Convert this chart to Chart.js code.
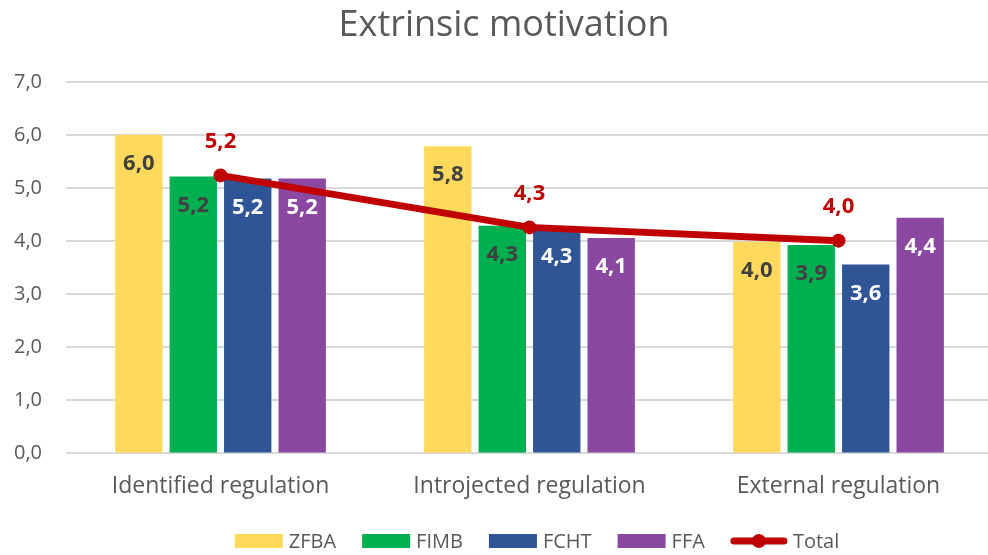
<!DOCTYPE html>
<html>
<head>
<meta charset="utf-8">
<script src="https://cdn.jsdelivr.net/npm/chart.js@4"></script>
<style>
  html, body { margin: 0; padding: 0; background: #fff; overflow: hidden; }
  #wrap { width: 988px; height: 555px; }
</style>
</head>
<body>
<div id="wrap"><canvas id="chart" width="988" height="555"></canvas></div>
<script>
const categories = ['Identified regulation', 'Introjected regulation', 'External regulation'];
const zfba = [6.0, 5.79, 3.99];
const fimb = [5.22, 4.29, 3.93];
const fcht = [5.18, 4.25, 3.56];
const ffa = [5.18, 4.06, 4.44];
const total = [5.24, 4.26, 4.01];
const yTicks = [0, 1, 2, 3, 4, 5, 6, 7];

const fontFamily = '"Open Sans", "Noto Sans", sans-serif';
const textGray = '#595959';
const red = '#C00000';

function fmt(v) {
  return v.toFixed(1).replace('.', ',');
}

// the original plot area runs a few px past the right edge of the picture
const widenPlugin = {
  id: 'widenArea',
  afterLayout(chart) {
    const x = chart.scales.x;
    chart.chartArea.right = 993;
    chart.chartArea.width = chart.chartArea.right - chart.chartArea.left;
    x.right = 993;
    x.width = x.right - x.left;
    x.configure();
  }
};

// title is drawn by hand: the original sits a little right of the canvas centre
const titlePlugin = {
  id: 'offsetTitle',
  afterDraw(chart) {
    const ctx = chart.ctx;
    ctx.save();
    ctx.font = '36px ' + fontFamily;
    ctx.fillStyle = textGray;
    ctx.textAlign = 'center';
    ctx.textBaseline = 'middle';
    ctx.fillText('Extrinsic motivation', 504, 26);
    ctx.restore();
  }
};

const labelPlugin = {
  id: 'valueLabels',
  afterDatasetsDraw(chart) {
    const ctx = chart.ctx;
    ctx.save();
    ctx.textAlign = 'center';
    ctx.textBaseline = 'middle';
    chart.data.datasets.forEach((ds, i) => {
      const meta = chart.getDatasetMeta(i);
      meta.data.forEach((el, j) => {
        const v = ds.data[j];
        ctx.font = 'bold 22px ' + fontFamily;
        if (ds.type === 'line') {
          ctx.fillStyle = red;
          ctx.fillText(fmt(v), el.x, el.y - 34);
        } else {
          ctx.fillStyle = ds.labelColor;
          ctx.fillText(fmt(v), el.x, el.y + 29);
        }
      });
    });
    ctx.restore();
  }
};

const legendPlugin = {
  id: 'customLegend',
  afterDraw(chart) {
    const ctx = chart.ctx;
    const y = 541;
    ctx.save();
    ctx.font = '20px ' + fontFamily;
    ctx.textBaseline = 'middle';
    ctx.textAlign = 'left';
    const items = chart.data.datasets.slice().sort((a, b) => a.legendIndex - b.legendIndex);
    const boxW = 48;
    const gap = 6;
    const spacing = 26;
    let widthSum = 0;
    items.forEach(ds => {
      widthSum += (ds.type === 'line' ? 56 : boxW) + gap + ctx.measureText(ds.label).width;
    });
    widthSum += spacing * (items.length - 1);
    let x = 537 - widthSum / 2;
    items.forEach(ds => {
      if (ds.type === 'line') {
        ctx.strokeStyle = ds.borderColor;
        ctx.lineWidth = 7;
        ctx.lineCap = 'round';
        ctx.beginPath();
        ctx.moveTo(x + 3, y);
        ctx.lineTo(x + 53, y);
        ctx.stroke();
        ctx.fillStyle = ds.borderColor;
        ctx.beginPath();
        ctx.arc(x + 28, y, 7, 0, Math.PI * 2);
        ctx.fill();
        x += 56 + gap;
      } else {
        ctx.fillStyle = ds.backgroundColor;
        ctx.fillRect(x, y - 7, boxW, 14);
        x += boxW + gap;
      }
      ctx.fillStyle = textGray;
      ctx.fillText(ds.label, x, y + 1);
      x += ctx.measureText(ds.label).width + spacing;
    });
    ctx.restore();
  }
};

const barBase = { type: 'bar', borderWidth: 0, barPercentage: 0.87, categoryPercentage: 0.705 };

new Chart(document.getElementById('chart'), {
  data: {
    labels: categories,
    datasets: [
      {
        type: 'line', label: 'Total', data: total, legendIndex: 4, order: 0,
        borderColor: red, backgroundColor: red, borderWidth: 7,
        pointRadius: 7, pointBackgroundColor: red, pointBorderWidth: 0, tension: 0
      },
      Object.assign({}, barBase, { label: 'ZFBA', data: zfba, backgroundColor: '#FFD95C', labelColor: '#404040', legendIndex: 0, order: 1 }),
      Object.assign({}, barBase, { label: 'FIMB', data: fimb, backgroundColor: '#00B050', labelColor: '#404040', legendIndex: 1, order: 1 }),
      Object.assign({}, barBase, { label: 'FCHT', data: fcht, backgroundColor: '#2F5597', labelColor: '#FFFFFF', legendIndex: 2, order: 1 }),
      Object.assign({}, barBase, { label: 'FFA', data: ffa, backgroundColor: '#8B48A0', labelColor: '#FFFFFF', legendIndex: 3, order: 1 })
    ]
  },
  options: {
    responsive: false,
    animation: false,
    layout: { padding: { left: 0, right: 0, top: 82, bottom: 44 } },
    plugins: {
      legend: { display: false },
      tooltip: { enabled: false },
      title: { display: false }
    },
    scales: {
      x: {
        grid: { display: false },
        border: { display: false },
        ticks: { color: textGray, font: { family: fontFamily, size: 23 }, padding: 11 }
      },
      y: {
        min: 0,
        max: 7,
        afterFit(scale) { scale.width = 66; },
        afterBuildTicks(scale) { scale.ticks = yTicks.map(v => ({ value: v })); },
        grid: { color: '#D9D9D9', lineWidth: 2, drawTicks: false },
        border: { display: false },
        ticks: {
          color: textGray,
          font: { family: fontFamily, size: 20 },
          padding: 24,
          callback: v => fmt(v)
        }
      }
    }
  },
  plugins: [widenPlugin, labelPlugin, legendPlugin, titlePlugin]
});
</script>
</body>
</html>
